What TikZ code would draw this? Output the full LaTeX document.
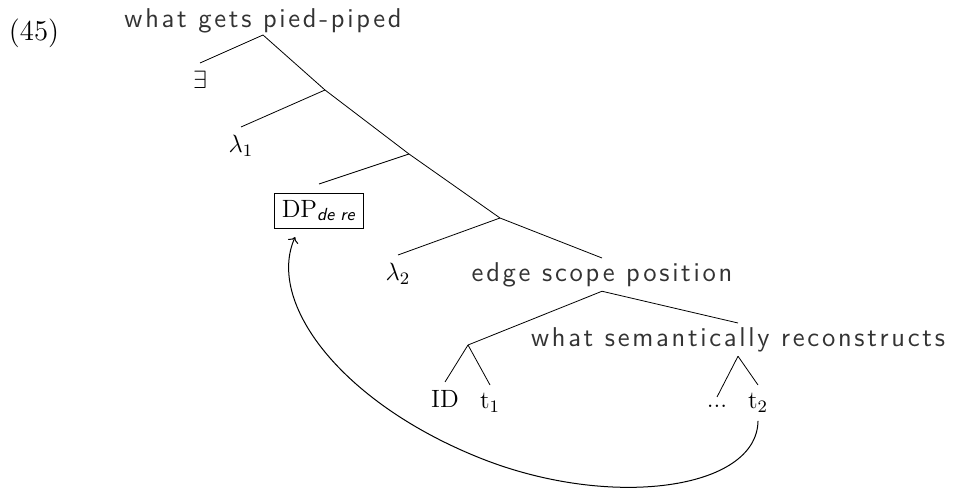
\RequirePackage{fix-cm}
\documentclass[tikz,border=0pt]{standalone}
\usepackage{amsmath}
\usepackage{fontspec}
\newfontfamily\treesans{Latin Modern Sans}[LetterSpace=10]
\usetikzlibrary{arrows.meta}

\begin{document}
\begin{tikzpicture}[x=0.5pt, y=-0.5pt,
    sans/.style={font=\fontsize{13.6}{16}\treesans, text=black!80},
    leaf/.style={anchor=north, inner sep=4pt, font=\fontsize{12.5}{15}\selectfont},
    arr/.style={->, line width=0.5pt},
]
\useasboundingbox (0,0) rectangle (956,496);

% === EXAMPLE NUMBER ===
\node[font=\fontsize{14.4}{17}\selectfont] (num) at (34,33) {(45)};

% === PHRASE LABELS ===
\node[sans, anchor=south, inner ysep=1pt] (root) at (263,35) {what gets pied-piped};
\node[sans, anchor=north, inner ysep=2pt] (esp) at (602,258) {edge scope position};
\node[sans, anchor=north, inner ysep=2pt] (wsr) at (738,323) {what semantically reconstructs};

% === BRANCHING POINTS ===
\coordinate (j1) at (325,90);
\coordinate (j2) at (409,154);
\coordinate (j3) at (500,218);
\coordinate (j4) at (468,345);

% === LEAVES ===
\foreach \nm/\x/\y/\txt in {ex/200/63/{$\exists$}, lam1/241/127/{$\lambda_1$},
    lam2/398/255/{$\lambda_2$}, id/445/382/{ID}, t1/490/385/{t$_1$},
    dots/717/397/{...}, t2/758/385/{t$_2$}}{
    \node[leaf] (\nm) at (\x,\y) {\txt};
}
\node[draw, anchor=north, inner sep=3.5pt, outer sep=4.5pt,
    font=\fontsize{12.5}{15}\selectfont] (dp) at (319,184) {DP$_{\textsf{\textit{de re}}}$};

% === BRANCHES ===
\draw (root.south) -- (j1) -- (j2) -- (j3) -- (esp.north);
\draw (j4) -- (esp.south) -- (wsr.north);
\foreach \a/\b in {root.south/ex, j1/lam1, j2/dp, j3/lam2, j4/id, j4/t1, wsr.south/dots, wsr.south/t2}{
    \draw (\a) -- (\b.north);
}

% === MOVEMENT ARROW ===
\coordinate (bend) at (480,458);
\draw[arr] (t2.south) .. controls (757,490) and (610,510) .. (bend)
    .. controls (340,402) and (266,302) .. (dp.228);

\end{tikzpicture}
\end{document}
